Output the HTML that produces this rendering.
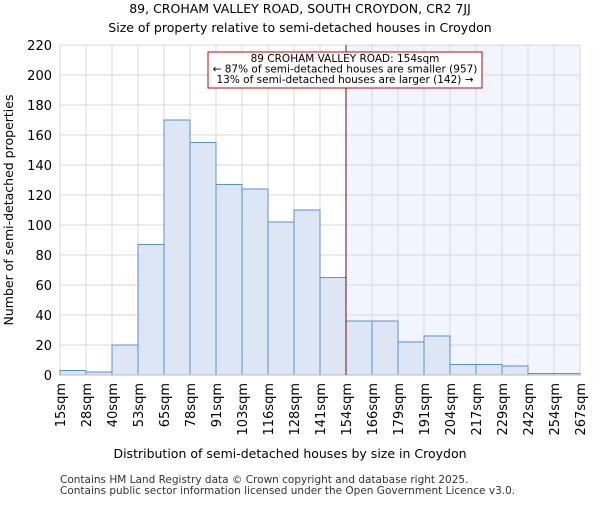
<!DOCTYPE html>
<html><head><meta charset="utf-8"><style>body{margin:0;background:#fff}svg{font-family:"DejaVu Sans","Liberation Sans",sans-serif}</style></head>
<body>
<svg id="c" width="600" height="500" xmlns="http://www.w3.org/2000/svg">
<text x="300" y="13" text-anchor="middle" font-size="12.5">89, CROHAM VALLEY ROAD, SOUTH CROYDON, CR2 7JJ</text>
<text x="300" y="32" text-anchor="middle" font-size="12.5">Size of property relative to semi-detached houses in Croydon</text>
<g id="g"></g>
<text x="290" y="458" text-anchor="middle" font-size="12.5">Distribution of semi-detached houses by size in Croydon</text>
<text transform="translate(13,210) rotate(-90)" text-anchor="middle" font-size="12.5">Number of semi-detached properties</text>
<text x="60" y="483" font-size="10.5" fill="#333">Contains HM Land Registry data © Crown copyright and database right 2025.</text>
<text x="60" y="494" font-size="10.5" fill="#333">Contains public sector information licensed under the Open Government Licence v3.0.</text>
</svg>
<script>
const tickLabels=["15sqm","28sqm","40sqm","53sqm","65sqm","78sqm","91sqm","103sqm","116sqm","128sqm","141sqm","154sqm","166sqm","179sqm","191sqm","204sqm","217sqm","229sqm","242sqm","254sqm","267sqm"];
const counts=[3,2,20,87,170,155,127,124,102,110,65,36,36,22,26,7,7,6,1,1];
const yTicks=[0,20,40,60,80,100,120,140,160,180,200,220];
const markerIndex=11;
const yMax=220;
const L=60,R=580,T=45,B=375;
const NS="http://www.w3.org/2000/svg",g=document.getElementById('g');
const xs=i=>L+i*(R-L)/counts.length;
const ys=v=>B-v/yMax*(B-T);
function mk(t,a){const e=document.createElementNS(NS,t);for(const k in a)e.setAttribute(k,a[k]);g.appendChild(e);return e;}
let e=mk('rect',{x:xs(markerIndex),y:T,width:R-xs(markerIndex),height:B-T,fill:'#f2f5fd'});


yTicks.forEach(v=>{let l=mk('line',{x1:L,x2:R,y1:ys(v),y2:ys(v),stroke:'#d9d9d9'});


let t=mk('text',{x:L-8,y:ys(v)+5,'text-anchor':'end','font-size':'13'});t.textContent=v;

});
tickLabels.forEach((s,i)=>{let l=mk('line',{x1:xs(i),x2:xs(i),y1:T,y2:B,stroke:'#d9d9d9'});


let t=mk('text',{transform:`translate(${xs(i)+5},${B+8}) rotate(-90)`,'text-anchor':'end','font-size':'13'});t.textContent=s;

});
counts.forEach((v,i)=>{let r=mk('rect',{x:xs(i),y:ys(v),width:xs(i+1)-xs(i),height:B-ys(v),fill:'#dce6f4',stroke:'#5b8fd6','stroke-width':1});

});
let ax=mk('line',{x1:L,x2:R,y1:B,y2:B,stroke:'#bbb'});


let m=mk('line',{x1:xs(markerIndex),x2:xs(markerIndex),y1:T,y2:B,stroke:'#6b1010','stroke-width':1});


let bx=mk('rect',{x:208,y:52,width:274,height:36,fill:'#fff',stroke:'#c00','stroke-width':1});


["89 CROHAM VALLEY ROAD: 154sqm","← 87% of semi-detached houses are smaller (957)","13% of semi-detached houses are larger (142) →"].forEach((s,i)=>{let t=mk('text',{x:345,y:62+i*10.5,'text-anchor':'middle','font-size':'10.5'});t.textContent=s;

});
</script>
</body></html>
